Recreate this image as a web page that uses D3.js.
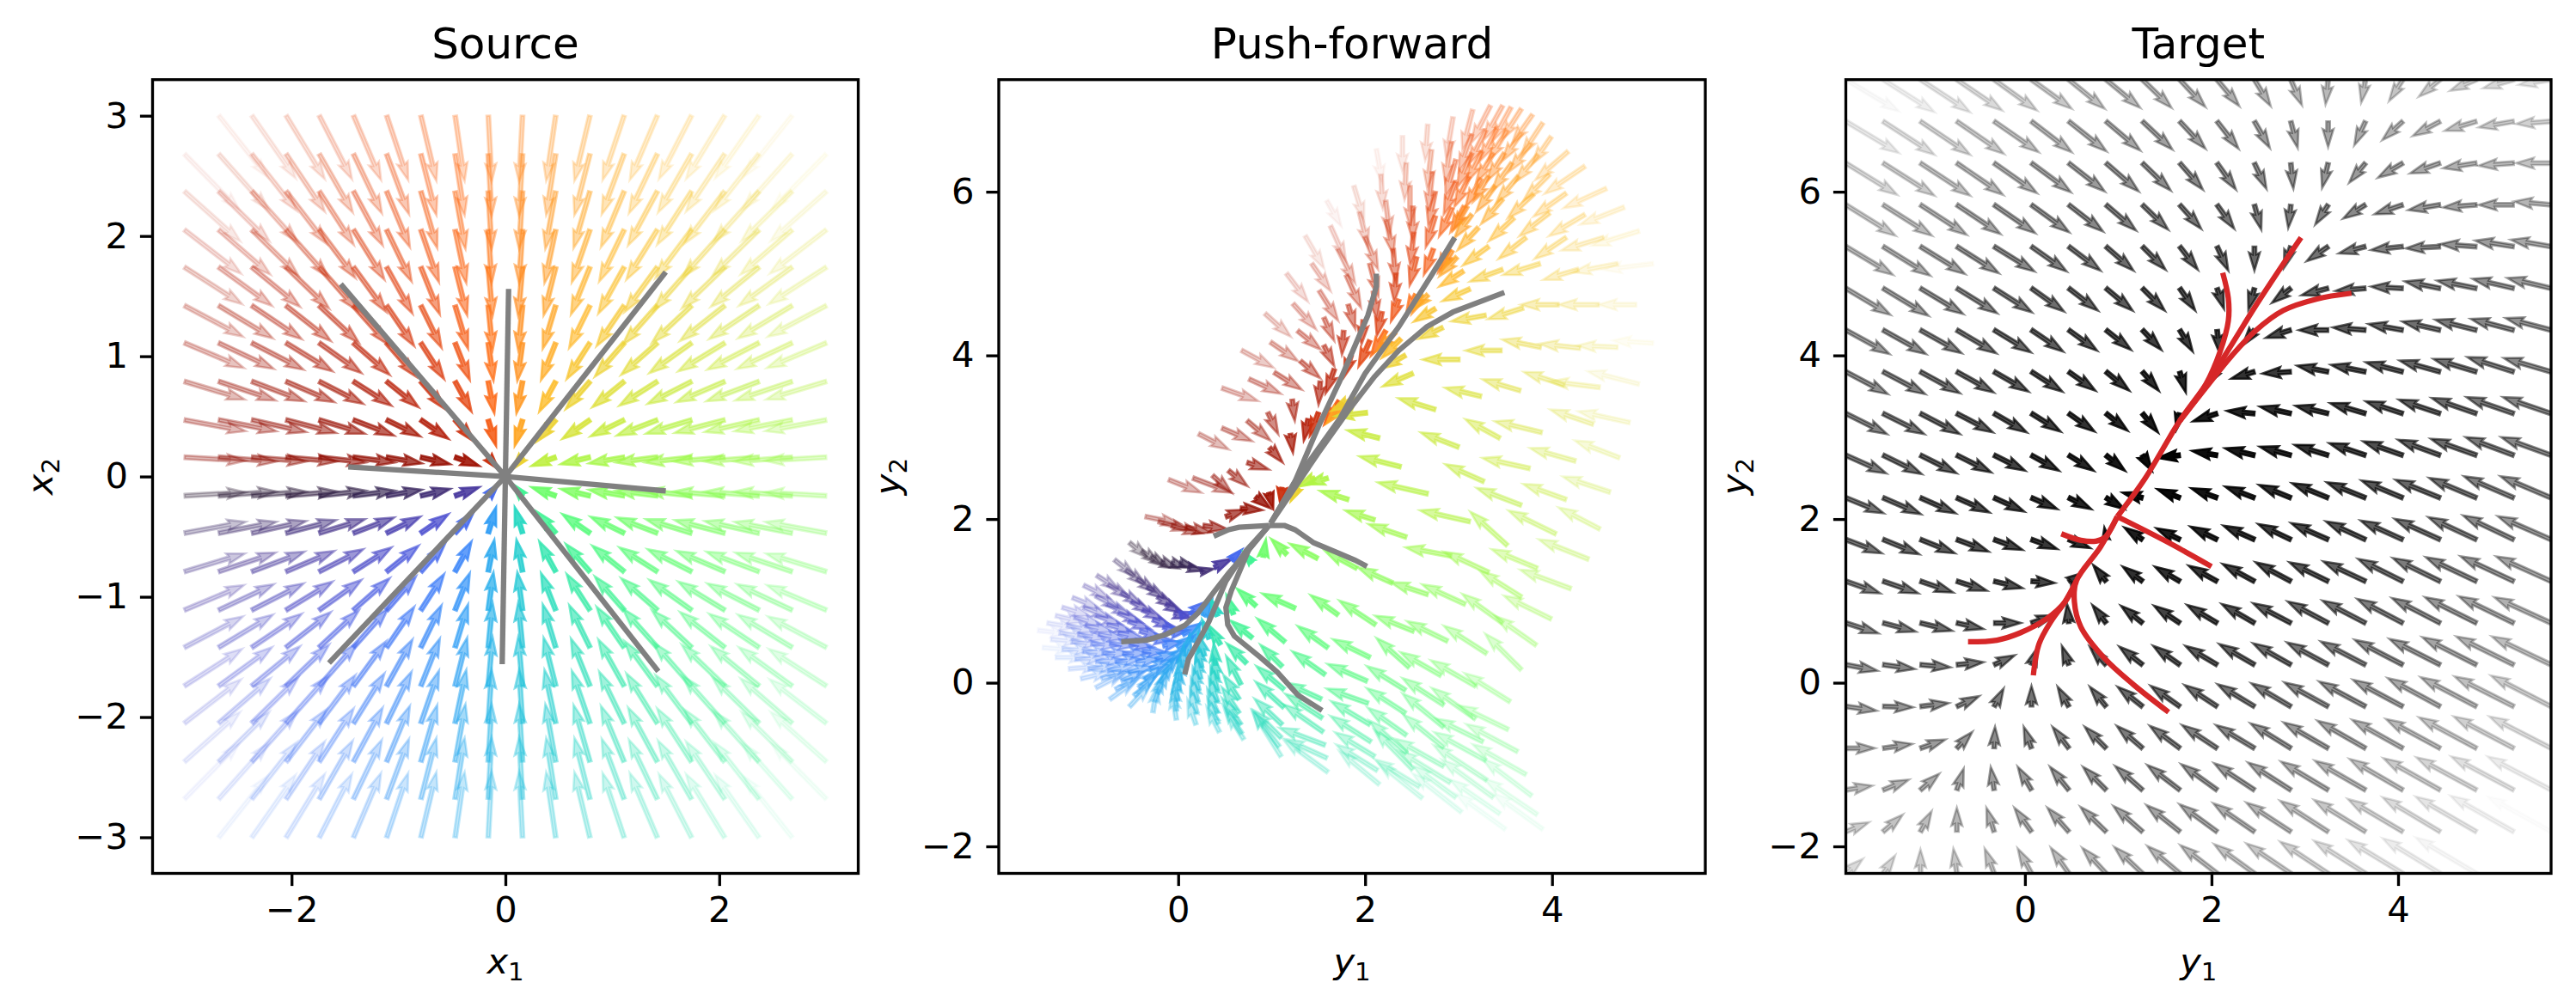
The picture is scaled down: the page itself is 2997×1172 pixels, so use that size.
<!DOCTYPE html>
<html>
<head>
<meta charset="utf-8">
<script src="https://cdn.jsdelivr.net/npm/d3@7"></script>
<style>
  html, body { margin: 0; background: #fff; }
  text { font-family: "DejaVu Sans"; fill: #000; }
</style>
</head>
<body>
<div id="my_dataviz"></div>
<script>
// grid of the source panel, row 0 is the top row
var sourceGridX = [-3,-2.68,-2.37,-2.05,-1.74,-1.42,-1.11,-.79,-.47,-.16,.16,.47,.79,1.11,1.42,1.74,2.05,2.37,2.68,3];
var sourceGridY = [3,2.68,2.37,2.05,1.74,1.42,1.11,.79,.47,.16,-.16,-.47,-.79,-1.11,-1.42,-1.74,-2.05,-2.37,-2.68,-3];

var sourceU = [
[.63,.57,.51,.45,.38,.32,.25,.18,.11,.04,-.04,-.11,-.18,-.25,-.32,-.38,-.45,-.51,-.57,-.63],
[.64,.58,.52,.45,.39,.33,.26,.18,.11,.04,-.04,-.11,-.18,-.26,-.33,-.39,-.45,-.52,-.58,-.64],
[.65,.59,.53,.47,.40,.34,.27,.19,.12,.04,-.04,-.12,-.19,-.27,-.34,-.40,-.47,-.53,-.59,-.65],
[.66,.60,.54,.49,.42,.36,.29,.21,.13,.04,-.04,-.13,-.21,-.29,-.36,-.42,-.49,-.54,-.60,-.66],
[.67,.62,.56,.50,.44,.38,.30,.22,.14,.05,-.05,-.14,-.22,-.30,-.38,-.44,-.50,-.56,-.62,-.67],
[.68,.63,.58,.52,.46,.40,.32,.24,.15,.05,-.05,-.15,-.24,-.32,-.40,-.46,-.52,-.58,-.63,-.68],
[.69,.64,.60,.54,.49,.42,.34,.27,.17,.06,-.06,-.17,-.27,-.34,-.42,-.49,-.54,-.60,-.64,-.69],
[.70,.66,.61,.56,.51,.44,.37,.28,.19,.07,-.07,-.19,-.28,-.37,-.44,-.51,-.56,-.61,-.66,-.70],
[.71,.67,.63,.58,.53,.47,.39,.32,.22,.09,-.09,-.22,-.32,-.39,-.47,-.53,-.58,-.63,-.67,-.71],
[.71,.67,.63,.59,.54,.48,.41,.34,.28,.12,-.12,-.28,-.34,-.41,-.48,-.54,-.59,-.63,-.67,-.71],
[.71,.67,.63,.59,.54,.48,.41,.34,.28,.12,-.12,-.28,-.34,-.41,-.48,-.54,-.59,-.63,-.67,-.71],
[.71,.67,.63,.58,.53,.47,.39,.32,.22,.09,-.09,-.22,-.32,-.39,-.47,-.53,-.58,-.63,-.67,-.71],
[.70,.66,.61,.56,.51,.44,.37,.28,.19,.07,-.07,-.19,-.28,-.37,-.44,-.51,-.56,-.61,-.66,-.70],
[.69,.64,.60,.54,.49,.42,.34,.27,.17,.06,-.06,-.17,-.27,-.34,-.42,-.49,-.54,-.60,-.64,-.69],
[.68,.63,.58,.52,.46,.40,.32,.24,.15,.05,-.05,-.15,-.24,-.32,-.40,-.46,-.52,-.58,-.63,-.68],
[.67,.62,.56,.50,.44,.38,.30,.22,.14,.05,-.05,-.14,-.22,-.30,-.38,-.44,-.50,-.56,-.62,-.67],
[.66,.60,.54,.49,.42,.36,.29,.21,.13,.04,-.04,-.13,-.21,-.29,-.36,-.42,-.49,-.54,-.60,-.66],
[.65,.59,.53,.47,.40,.34,.27,.19,.12,.04,-.04,-.12,-.19,-.27,-.34,-.40,-.47,-.53,-.59,-.65],
[.64,.58,.52,.45,.39,.33,.26,.18,.11,.04,-.04,-.11,-.18,-.26,-.33,-.39,-.45,-.52,-.58,-.64],
[.63,.57,.51,.45,.38,.32,.25,.18,.11,.04,-.04,-.11,-.18,-.25,-.32,-.38,-.45,-.51,-.57,-.63]];

var sourceV = [
[-.71,-.72,-.73,-.74,-.74,-.75,-.75,-.76,-.76,-.77,-.77,-.76,-.76,-.75,-.75,-.74,-.74,-.73,-.72,-.71],
[-.65,-.65,-.66,-.67,-.68,-.69,-.70,-.71,-.71,-.72,-.72,-.71,-.71,-.70,-.69,-.68,-.67,-.66,-.65,-.65],
[-.58,-.58,-.59,-.61,-.62,-.63,-.65,-.66,-.67,-.67,-.67,-.67,-.66,-.65,-.63,-.62,-.61,-.59,-.58,-.58],
[-.51,-.52,-.53,-.55,-.56,-.58,-.60,-.61,-.62,-.62,-.62,-.62,-.61,-.60,-.58,-.56,-.55,-.53,-.52,-.51],
[-.43,-.45,-.46,-.48,-.50,-.52,-.54,-.55,-.56,-.57,-.57,-.56,-.55,-.54,-.52,-.50,-.48,-.46,-.45,-.43],
[-.36,-.38,-.39,-.41,-.43,-.45,-.47,-.49,-.50,-.52,-.52,-.50,-.49,-.47,-.45,-.43,-.41,-.39,-.38,-.36],
[-.29,-.30,-.31,-.33,-.35,-.37,-.39,-.42,-.43,-.44,-.44,-.43,-.42,-.39,-.37,-.35,-.33,-.31,-.30,-.29],
[-.21,-.22,-.23,-.24,-.26,-.28,-.30,-.32,-.35,-.37,-.37,-.35,-.32,-.30,-.28,-.26,-.24,-.23,-.22,-.21],
[-.13,-.13,-.14,-.15,-.16,-.18,-.19,-.22,-.25,-.30,-.30,-.25,-.22,-.19,-.18,-.16,-.15,-.14,-.13,-.13],
[-.04,-.05,-.05,-.05,-.06,-.06,-.07,-.08,-.10,-.14,-.14,-.10,-.08,-.07,-.06,-.06,-.05,-.05,-.05,-.04],
[.04,.05,.05,.05,.06,.06,.07,.08,.10,.14,.14,.10,.08,.07,.06,.06,.05,.05,.05,.04],
[.13,.13,.14,.15,.16,.18,.19,.22,.25,.30,.30,.25,.22,.19,.18,.16,.15,.14,.13,.13],
[.21,.22,.23,.24,.26,.28,.30,.32,.35,.37,.37,.35,.32,.30,.28,.26,.24,.23,.22,.21],
[.29,.30,.31,.33,.35,.37,.39,.42,.43,.44,.44,.43,.42,.39,.37,.35,.33,.31,.30,.29],
[.36,.38,.39,.41,.43,.45,.47,.49,.50,.52,.52,.50,.49,.47,.45,.43,.41,.39,.38,.36],
[.43,.45,.46,.48,.50,.52,.54,.55,.56,.57,.57,.56,.55,.54,.52,.50,.48,.46,.45,.43],
[.51,.52,.53,.55,.56,.58,.60,.61,.62,.62,.62,.62,.61,.60,.58,.56,.55,.53,.52,.51],
[.58,.58,.59,.61,.62,.63,.65,.66,.67,.67,.67,.67,.66,.65,.63,.62,.61,.59,.58,.58],
[.65,.65,.66,.67,.68,.69,.70,.71,.71,.72,.72,.71,.71,.70,.69,.68,.67,.66,.65,.65],
[.71,.72,.73,.74,.74,.75,.75,.76,.76,.77,.77,.76,.76,.75,.75,.74,.74,.73,.72,.71]];

// push-forward of that same grid
var pushX = [
[1.95,2.12,2.40,2.67,2.94,3.15,3.34,3.47,3.56,3.67,3.79,3.90,3.99,4.17,4.35,4.58,4.77,4.93,5.08,5.25],
[1.59,1.88,2.17,2.44,2.71,2.92,3.14,3.29,3.41,3.52,3.67,3.77,3.85,3.97,4.15,4.35,4.55,4.70,4.90,5.08],
[1.36,1.63,1.94,2.22,2.48,2.72,2.97,3.14,3.25,3.37,3.49,3.57,3.64,3.80,3.97,4.15,4.28,4.50,4.70,4.93],
[1.16,1.43,1.71,2.00,2.23,2.51,2.75,2.97,3.11,3.24,3.32,3.39,3.47,3.59,3.72,3.87,4.07,4.30,4.51,4.83],
[.93,1.23,1.51,1.80,2.05,2.30,2.52,2.75,2.93,3.06,3.09,3.14,3.21,3.32,3.47,3.69,3.88,4.13,4.44,4.72],
[.68,.99,1.28,1.56,1.82,2.09,2.33,2.55,2.73,2.90,2.93,2.98,3.05,3.12,3.29,3.46,3.66,3.89,4.25,4.62],
[.47,.76,1.03,1.31,1.56,1.77,1.98,2.18,2.36,2.54,2.60,2.67,2.75,2.83,3.01,3.24,3.44,3.76,4.15,4.51],
[.22,.47,.74,.96,1.22,1.52,1.67,1.85,2.05,2.22,2.32,2.38,2.43,2.51,2.75,3.00,3.27,3.67,4.04,4.39],
[-.10,.16,.37,.54,.74,.98,1.20,1.39,1.50,1.72,1.77,1.89,2.02,2.15,2.38,2.67,3.12,3.52,3.84,4.20],
[-.35,-.21,-.07,.08,.27,.51,.67,.83,.97,1.11,1.28,1.46,1.60,1.82,2.10,2.44,2.92,3.32,3.67,3.99],
[-.52,-.39,-.29,-.18,-.07,.02,.11,.24,.39,.57,.79,.91,1.16,1.49,1.91,2.29,2.67,3.07,3.47,3.83],
[-.68,-.56,-.44,-.33,-.22,-.13,-.04,.02,.13,.27,.42,.59,.83,1.25,1.71,2.11,2.52,2.88,3.30,3.67],
[-.87,-.75,-.61,-.50,-.38,-.27,-.16,-.07,.05,.16,.33,.45,.79,1.14,1.60,2.05,2.47,2.81,3.18,3.55],
[-1.01,-.88,-.76,-.64,-.53,-.41,-.29,-.16,-.01,.08,.28,.40,.73,1.11,1.57,2.02,2.43,2.84,3.18,3.53],
[-1.13,-1.01,-.88,-.76,-.64,-.52,-.38,-.24,-.09,.04,.25,.42,.67,1.13,1.53,2.03,2.43,2.84,3.26,3.63],
[-1.24,-1.11,-.99,-.85,-.73,-.59,-.45,-.30,-.15,.02,.24,.42,.65,1.13,1.54,2.05,2.44,2.84,3.29,3.72],
[-1.31,-1.19,-1.07,-.93,-.81,-.67,-.53,-.36,-.19,.01,.22,.42,.65,1.11,1.55,2.06,2.44,2.84,3.30,3.78],
[-1.40,-1.27,-1.14,-1.02,-.88,-.75,-.61,-.42,-.22,-.01,.21,.42,.67,1.10,1.57,2.10,2.51,2.91,3.37,3.84],
[-1.50,-1.36,-1.24,-1.10,-.96,-.82,-.67,-.47,-.25,-.02,.20,.43,.68,1.08,1.59,2.13,2.58,2.97,3.44,3.90],
[-1.59,-1.45,-1.31,-1.17,-1.04,-.88,-.73,-.52,-.27,-.02,.19,.44,.70,1.10,1.60,2.15,2.61,3.03,3.50,3.96]];

var pushY = [
[6.30,6.52,6.68,6.82,6.91,7.00,7.05,7.05,7.03,7.01,6.94,6.84,6.67,6.49,6.31,6.04,5.81,5.52,5.12,4.65],
[5.89,6.07,6.21,6.35,6.51,6.61,6.70,6.75,6.77,6.75,6.72,6.59,6.45,6.21,5.98,5.72,5.44,5.12,4.62,4.15],
[5.46,5.58,5.75,5.89,6.07,6.24,6.39,6.47,6.49,6.47,6.47,6.35,6.19,5.97,5.74,5.44,5.05,4.62,4.10,3.65],
[5.00,5.12,5.30,5.45,5.65,5.82,6.00,6.12,6.18,6.16,6.19,6.07,5.91,5.68,5.44,5.12,4.62,4.09,3.61,3.18],
[4.51,4.63,4.79,4.98,5.12,5.30,5.50,5.70,5.80,5.82,5.82,5.72,5.56,5.33,5.05,4.58,4.10,3.64,3.16,2.75],
[4.06,4.16,4.30,4.46,4.62,4.78,5.00,5.20,5.30,5.30,5.28,5.20,5.03,4.81,4.49,4.06,3.57,3.06,2.71,2.33],
[3.60,3.71,3.79,3.93,4.12,4.30,4.43,4.53,4.68,4.74,4.74,4.74,4.57,4.34,3.95,3.50,2.99,2.62,2.24,1.88],
[3.04,3.11,3.20,3.30,3.46,3.68,3.83,4.00,4.18,4.30,4.28,4.20,4.00,3.78,3.34,2.88,2.46,2.17,1.82,1.51],
[2.48,2.50,2.53,2.59,2.69,2.87,3.04,3.22,3.30,3.44,3.41,3.48,3.30,2.99,2.64,2.31,1.97,1.68,1.40,1.15],
[2.03,1.97,1.92,1.90,1.92,2.03,2.13,2.27,2.32,2.38,2.38,2.50,2.50,2.24,1.99,1.78,1.55,1.35,1.05,.78],
[1.71,1.61,1.54,1.48,1.47,1.47,1.41,1.36,1.41,1.50,1.47,1.54,1.57,1.52,1.40,1.22,1.08,.96,.73,.46],
[1.50,1.38,1.27,1.17,1.05,.96,.85,.82,.84,.82,.82,.84,.94,.91,.83,.71,.63,.51,.36,.16],
[1.31,1.20,1.10,.99,.89,.77,.68,.61,.59,.50,.54,.47,.55,.50,.43,.31,.19,.09,-.04,-.23],
[1.19,1.06,.96,.85,.75,.63,.54,.45,.43,.33,.33,.22,.24,.20,.10,.02,-.09,-.27,-.44,-.57],
[1.04,.92,.82,.71,.61,.48,.38,.29,.26,.19,.19,.05,-.02,-.08,-.20,-.25,-.37,-.54,-.72,-.84],
[.92,.80,.70,.59,.48,.36,.26,.17,.12,.03,.05,-.09,-.20,-.30,-.43,-.51,-.64,-.79,-.95,-1.12],
[.82,.70,.59,.48,.36,.26,.13,.05,0,-.09,-.09,-.23,-.37,-.51,-.60,-.72,-.86,-1.02,-1.19,-1.38],
[.73,.61,.50,.38,.26,.15,.03,-.06,-.13,-.22,-.23,-.37,-.51,-.67,-.76,-.90,-1.06,-1.22,-1.40,-1.61],
[.64,.53,.41,.29,.17,.05,-.08,-.16,-.23,-.34,-.37,-.50,-.62,-.78,-.92,-1.07,-1.27,-1.40,-1.60,-1.79],
[.55,.43,.31,.17,.05,-.06,-.20,-.29,-.36,-.45,-.51,-.60,-.69,-.90,-1.09,-1.24,-1.41,-1.58,-1.79,-1.97]];

var pushU = [
[.05,.07,0,-.03,-.08,-.12,-.22,-.22,-.22,-.23,-.24,-.25,-.22,-.38,-.47,-.50,-.51,-.55,-.58,-.60],
[.17,.12,.02,-.02,-.05,-.07,-.15,-.20,-.20,-.22,-.22,-.25,-.27,-.30,-.38,-.42,-.49,-.52,-.44,-.47],
[.22,.18,.10,.05,0,-.05,-.12,-.17,-.18,-.20,-.20,-.23,-.26,-.30,-.35,-.37,-.41,-.47,-.47,-.60],
[.25,.22,.20,.15,.08,0,-.08,-.14,-.17,-.18,-.18,-.22,-.25,-.29,-.32,-.43,-.44,-.47,-.58,-.60],
[.30,.27,.22,.17,.10,.03,-.04,-.11,-.15,-.16,-.16,-.20,-.24,-.30,-.38,-.41,-.45,-.47,-.50,-.52],
[.37,.32,.27,.12,.08,.04,-.02,-.08,-.11,-.13,-.14,-.20,-.28,-.32,-.40,-.42,-.44,-.55,-.53,-.55],
[.42,.37,.32,.23,.12,-.02,-.02,-.06,-.09,-.11,-.11,-.17,-.25,-.28,-.43,-.42,-.40,-.55,-.50,-.48],
[.35,.35,.27,.12,.03,-.02,-.10,-.08,-.13,-.17,-.22,-.22,-.27,-.35,-.43,-.44,-.45,-.52,-.55,-.58],
[.38,.45,.22,.22,.25,.15,.03,-.05,-.10,-.17,-.20,-.27,-.37,-.37,-.48,-.58,-.58,-.43,-.53,-.59],
[.40,.37,.35,.30,.28,.23,.25,.17,.05,-.02,-.08,-.20,-.25,-.33,-.34,-.44,-.53,-.52,-.48,-.55],
[.22,.22,.20,.20,.18,.17,.17,.15,.20,.12,-.10,.03,-.18,-.32,-.37,-.40,-.43,-.50,-.47,-.48],
[.25,.24,.23,.22,.21,.20,.20,.15,.20,.10,-.08,-.08,-.22,-.38,-.32,-.42,-.45,-.47,-.50,-.42],
[.27,.26,.25,.24,.24,.24,.22,.20,.22,.08,-.08,-.13,-.25,-.32,-.35,-.43,-.38,-.47,-.52,-.53],
[.30,.29,.28,.28,.26,.26,.25,.22,.20,.05,-.07,-.02,-.23,-.25,-.38,-.46,-.45,-.48,-.51,-.58],
[.32,.31,.30,.30,.29,.28,.27,.24,.20,.02,-.05,-.05,-.17,-.32,-.41,-.48,-.45,-.48,-.55,-.60],
[.33,.33,.32,.32,.31,.30,.28,.25,.18,0,-.06,-.08,-.18,-.33,-.43,-.45,-.45,-.47,-.60,-.62],
[.34,.34,.34,.33,.32,.31,.29,.25,.15,-.01,-.07,-.10,-.20,-.32,-.46,-.47,-.43,-.57,-.62,-.57],
[.35,.35,.35,.34,.33,.32,.29,.24,.12,-.02,-.08,-.12,-.22,-.32,-.53,-.46,-.45,-.60,-.60,-.62],
[.36,.36,.36,.35,.34,.33,.30,.25,.09,-.03,-.08,-.13,-.22,-.32,-.48,-.48,-.52,-.50,-.58,-.58],
[.37,.37,.37,.37,.35,.35,.32,.25,.05,-.05,-.10,-.15,-.20,-.33,-.52,-.47,-.52,-.57,-.58,-.60]];

var pushV = [
[-.38,-.40,-.42,-.42,-.48,-.47,-.43,-.40,-.40,-.36,-.34,-.38,-.32,-.33,-.32,-.23,-.20,-.17,-.07,0],
[-.30,-.40,-.40,-.43,-.45,-.47,-.43,-.40,-.38,-.35,-.33,-.33,-.32,-.30,-.27,-.25,-.15,-.10,0,.03],
[-.38,-.40,-.40,-.40,-.47,-.45,-.43,-.40,-.36,-.34,-.32,-.32,-.31,-.28,-.27,-.25,-.12,0,.02,.15],
[-.33,-.32,-.40,-.38,-.40,-.40,-.40,-.38,-.35,-.33,-.30,-.30,-.29,-.27,-.25,-.13,0,.05,.07,.13],
[-.27,-.30,-.35,-.38,-.38,-.38,-.38,-.36,-.33,-.30,-.28,-.27,-.26,-.22,-.14,-.13,.09,.15,.17,.20],
[-.20,-.22,-.22,-.27,-.28,-.32,-.33,-.33,-.30,-.27,-.25,-.22,-.18,-.14,-.07,0,.13,.13,.15,.18],
[-.15,-.17,-.20,-.20,-.24,-.28,-.28,-.28,-.25,-.22,-.22,-.17,-.15,-.13,0,.10,.22,.12,.18,.25],
[-.18,-.15,-.23,-.25,-.25,-.27,-.28,-.25,-.30,-.29,-.22,-.22,-.15,-.15,.13,.17,.20,.20,.27,.23],
[-.15,-.17,-.20,-.18,-.08,-.17,-.22,-.25,-.27,-.27,-.23,-.15,-.04,.09,.12,.13,.13,.39,.22,.22],
[-.08,-.10,-.09,-.06,-.04,.08,-.02,-.13,-.18,-.18,-.15,-.10,-.07,.10,.11,.15,.10,.24,.30,.27],
[-.18,-.15,-.12,-.08,-.06,-.05,-.04,.03,.10,.12,.12,.20,.18,.17,.20,.18,.14,.23,.34,.34],
[-.20,-.18,-.16,-.14,-.12,-.10,-.06,.04,.15,.18,.20,.22,.20,.17,.23,.28,.18,.23,.32,.42],
[-.17,-.16,-.14,-.13,-.11,-.09,-.04,.03,.13,.22,.22,.22,.20,.27,.25,.21,.34,.27,.30,.33],
[-.15,-.15,-.13,-.11,-.09,-.07,-.02,.05,.14,.25,.25,.25,.23,.25,.27,.20,.28,.31,.36,.28],
[-.13,-.12,-.10,-.08,-.06,-.04,0,.08,.18,.26,.27,.27,.33,.27,.19,.17,.29,.39,.27,.32],
[-.10,-.09,-.07,-.05,-.03,0,.03,.11,.22,.27,.27,.28,.28,.30,.28,.27,.32,.38,.33,.35],
[-.08,-.07,-.05,-.03,0,.03,.07,.15,.25,.28,.27,.28,.30,.30,.32,.30,.38,.32,.41,.43],
[-.06,-.05,-.03,-.01,.02,.06,.11,.19,.28,.30,.28,.29,.31,.32,.20,.28,.46,.37,.44,.42],
[-.04,-.03,-.01,.01,.04,.09,.15,.23,.31,.32,.29,.30,.33,.42,.22,.30,.32,.37,.40,.42],
[-.04,-.03,0,.03,.08,.18,.23,.27,.32,.34,.30,.30,.33,.53,.38,.39,.42,.45,.42,.42]];

// grid of the target panel, it runs right up to the axes limits
var targetGridX = [-1.92,-1.52,-1.12,-.73,-.33,.07,.47,.87,1.26,1.66,2.06,2.46,2.85,3.25,3.65,4.05,4.45,4.84,5.24,5.64];
var targetGridY = [7.37,6.86,6.35,5.84,5.33,4.82,4.31,3.80,3.29,2.78,2.26,1.75,1.24,.73,.22,-.29,-.80,-1.31,-1.82,-2.33];

var targetU = [
[.62,.60,.58,.53,.50,.47,.42,.40,.34,.30,.26,.19,.13,-.03,-.05,-.16,-.25,-.31,-.36,-.38],
[.62,.60,.58,.55,.52,.47,.44,.40,.35,.30,.25,.18,.08,0,-.13,-.24,-.32,-.37,-.41,-.41],
[.60,.60,.58,.54,.50,.46,.42,.38,.33,.27,.22,.14,.03,-.07,-.19,-.29,-.35,-.39,-.41,-.41],
[.58,.57,.54,.51,.48,.44,.40,.35,.30,.25,.20,.08,-.03,-.15,-.26,-.33,-.37,-.39,-.41,-.43],
[.55,.55,.52,.49,.47,.41,.37,.32,.27,.21,.13,0,-.08,-.25,-.31,-.37,-.40,-.42,-.45,-.47],
[.52,.53,.50,.47,.44,.38,.34,.31,.26,.18,.08,-.07,-.22,-.31,-.35,-.37,-.41,-.46,-.48,-.51],
[.51,.50,.48,.46,.43,.37,.33,.29,.22,.15,.03,-.14,-.29,-.34,-.38,-.40,-.44,-.48,-.50,-.53],
[.49,.49,.46,.43,.40,.36,.31,.27,.19,.07,-.08,-.27,-.33,-.36,-.40,-.43,-.47,-.50,-.54,-.55],
[.48,.48,.46,.42,.38,.34,.30,.25,.18,-.04,-.28,-.32,-.36,-.38,-.41,-.43,-.48,-.52,-.55,-.56],
[.47,.45,.42,.40,.36,.32,.29,.22,.11,-.25,-.29,-.34,-.36,-.39,-.42,-.46,-.49,-.53,-.56,-.58],
[.44,.44,.41,.38,.35,.30,.26,.21,-.23,-.26,-.30,-.34,-.37,-.42,-.45,-.48,-.52,-.55,-.58,-.59],
[.42,.42,.40,.37,.33,.30,.25,-.02,-.21,-.27,-.31,-.36,-.38,-.43,-.46,-.49,-.53,-.56,-.59,-.62],
[.40,.41,.38,.35,.33,.27,.14,-.15,-.23,-.29,-.33,-.37,-.41,-.45,-.49,-.52,-.55,-.59,-.62,-.64],
[.38,.38,.37,.31,.31,.27,-.02,-.16,-.25,-.30,-.35,-.38,-.44,-.47,-.50,-.53,-.56,-.60,-.64,-.66],
[.37,.37,.35,.31,.24,.07,-.08,-.19,-.27,-.31,-.37,-.41,-.44,-.48,-.52,-.56,-.59,-.63,-.67,-.69],
[.36,.35,.33,.26,.11,0,-.13,-.19,-.29,-.34,-.38,-.43,-.46,-.51,-.54,-.58,-.61,-.65,-.69,-.70],
[.34,.34,.29,.18,.01,-.09,-.19,-.25,-.30,-.35,-.41,-.45,-.47,-.52,-.56,-.59,-.63,-.67,-.70,-.72],
[.31,.30,.22,.08,-.04,-.16,-.22,-.27,-.32,-.38,-.42,-.47,-.50,-.55,-.59,-.62,-.66,-.70,-.73,-.74],
[.27,.23,.13,0,-.09,-.20,-.25,-.30,-.34,-.39,-.44,-.48,-.52,-.56,-.60,-.64,-.67,-.71,-.74,-.74],
[.20,.14,0,-.04,-.11,-.16,-.21,-.28,-.33,-.38,-.43,-.47,-.52,-.56,-.60,-.64,-.67,-.71,-.75,-.76]];

var targetV = [
[-.37,-.38,-.38,-.36,-.36,-.34,-.34,-.33,-.33,-.32,-.31,-.31,-.30,-.29,-.27,-.25,-.20,-.13,-.10,-.06],
[-.37,-.39,-.39,-.38,-.36,-.36,-.35,-.34,-.33,-.32,-.32,-.31,-.31,-.30,-.28,-.22,-.17,-.11,-.07,-.03],
[-.37,-.38,-.38,-.37,-.35,-.34,-.33,-.33,-.32,-.31,-.31,-.30,-.30,-.29,-.23,-.17,-.12,-.06,-.03,0],
[-.36,-.36,-.35,-.34,-.33,-.32,-.31,-.30,-.29,-.28,-.28,-.29,-.27,-.23,-.16,-.11,-.06,-.03,0,.04],
[-.33,-.34,-.32,-.31,-.29,-.29,-.28,-.28,-.27,-.27,-.28,-.28,-.25,-.17,-.08,-.04,-.02,.03,.07,.08],
[-.31,-.32,-.30,-.29,-.28,-.27,-.26,-.26,-.26,-.26,-.24,-.25,-.17,-.08,-.03,.02,.08,.09,.11,.12],
[-.28,-.28,-.27,-.27,-.26,-.25,-.24,-.23,-.23,-.25,-.27,-.18,-.09,0,.03,.07,.10,.12,.13,.14],
[-.26,-.26,-.25,-.24,-.23,-.23,-.22,-.22,-.22,-.24,-.12,-.08,-.02,.07,.08,.11,.13,.15,.17,.16],
[-.24,-.24,-.24,-.22,-.22,-.21,-.21,-.20,-.22,-.19,-.09,.03,.08,.09,.12,.14,.16,.18,.19,.19],
[-.21,-.22,-.21,-.20,-.18,-.18,-.18,-.18,-.18,-.03,.05,.08,.10,.12,.14,.16,.18,.19,.21,.21],
[-.18,-.19,-.18,-.17,-.16,-.13,-.13,-.13,.06,.10,.11,.13,.15,.17,.18,.20,.21,.23,.25,.25],
[-.16,-.17,-.16,-.14,-.12,-.11,-.10,.14,.14,.13,.15,.16,.18,.19,.21,.22,.24,.26,.28,.27],
[-.14,-.14,-.13,-.11,-.08,-.02,.09,.19,.17,.17,.18,.20,.22,.22,.23,.26,.27,.28,.29,.29],
[-.12,-.10,-.09,-.07,0,.09,.22,.21,.20,.20,.21,.22,.23,.25,.26,.28,.29,.30,.31,.30],
[-.07,-.05,-.03,.03,.11,.20,.22,.21,.21,.22,.22,.24,.25,.26,.27,.29,.30,.32,.33,.33],
[-.05,-.01,.04,.12,.21,.24,.23,.23,.23,.24,.25,.26,.27,.28,.29,.31,.33,.34,.35,.36],
[0,.05,.10,.19,.25,.25,.25,.25,.26,.26,.27,.27,.29,.30,.32,.33,.34,.36,.37,.37],
[.05,.12,.19,.25,.27,.27,.27,.27,.28,.29,.30,.31,.32,.33,.34,.36,.37,.38,.39,.39],
[.11,.20,.24,.28,.28,.28,.28,.29,.30,.31,.32,.33,.34,.36,.37,.38,.40,.41,.42,.41],
[.17,.21,.28,.29,.29,.29,.30,.30,.31,.32,.33,.34,.35,.37,.38,.39,.41,.42,.43,.43]];

// the eight spokes, source panel then their images
var spokesSource = [
  {x:[0,.03], y:[0,1.56]}, {x:[0,1.50], y:[0,1.70]}, {x:[0,1.50], y:[0,-.12]}, {x:[0,1.43], y:[0,-1.62]},
  {x:[0,-.03], y:[0,-1.56]}, {x:[0,-1.65], y:[0,-1.55]}, {x:[0,-1.47], y:[0,.08]}, {x:[0,-1.54], y:[0,1.60]}];

var spokesPush = [
  {x:[.99,1.25,1.73,2.0,2.36,2.71,2.96], y:[1.95,2.46,3.23,3.78,4.35,4.98,5.44]},
  {x:[.99,1.5,1.83,2.1,2.36,2.66,2.94,3.49], y:[1.95,2.81,3.34,3.74,4.06,4.35,4.53,4.77]},
  {x:[.97,1.14,1.25,1.45,1.68,1.89,2.02], y:[1.92,1.92,1.87,1.71,1.60,1.50,1.42]},
  {x:[.97,.76,.57,.51,.53,.6,.88,1.06,1.28,1.54], y:[1.92,1.64,1.13,.92,.71,.57,.31,.13,-.15,-.34]},
  {x:[.97,.73,.51,.33,.17,.11,.07], y:[1.92,1.62,1.24,.75,.41,.29,.10]},
  {x:[.97,.73,.54,.39,.21,.07,-.13,-.34,-.61], y:[1.92,1.59,1.34,1.12,.85,.70,.59,.52,.50]},
  {x:[.97,.65,.54,.38], y:[1.92,1.90,1.87,1.79]},
  {x:[.99,1.25,1.5,1.73,1.9,2.03,2.12,2.12], y:[1.95,2.46,3.13,3.69,4.14,4.49,4.84,5.0]}];

var spokesTarget = [
  {x:[.99,1.29,1.66,1.97,2.22,2.47,2.77,2.96], y:[2.03,2.5,3.2,3.69,4.14,4.6,5.12,5.44]},
  {x:[1.66,1.97,2.22,2.47,2.77,3.13,3.5], y:[3.2,3.65,4.0,4.3,4.55,4.69,4.76]},
  {x:[.99,1.51,2.0], y:[2.03,1.73,1.42]},
  {x:[.99,.81,.55,.53,.6,.86,1.16,1.54], y:[2.03,1.66,1.24,.99,.68,.29,-.02,-.36]},
  {x:[.55,.43,.28,.15,.09], y:[1.24,.99,.75,.47,.09]},
  {x:[.55,.43,.23,-.05,-.3,-.61], y:[1.24,.99,.78,.61,.52,.50]},
  {x:[.99,.86,.76,.6,.39], y:[2.03,1.78,1.73,1.74,1.82]},
  {x:[1.66,1.94,2.09,2.18,2.18,2.12], y:[3.2,3.65,4.04,4.42,4.7,5.01]}];

// tick labels
var sourceTicksX = [-2,0,2], sourceTicksY = [-3,-2,-1,0,1,2,3];
var pushTicksX = [0,2,4], pushTicksY = [-2,0,2,4,6];

var svg = d3.select("#my_dataviz")
    .append("svg")
    .attr("width", 2997)
    .attr("height", 1172);

var top_ = 92.7, bottom_ = 1016.5;
var quiverScale = d3.scaleLinear().domain([0, 1]).range([0, 100]);
var shaft = 4.2;

// one arrow outline, same proportions as a matplotlib quiver
function arrowPath(tx, ty, u, v) {
    var dx = quiverScale(u), dy = -quiverScale(v);
    var L = Math.sqrt(dx * dx + dy * dy);
    if (L < 0.5) return "";
    var s = Math.min(1, L / (5 * shaft)); // short arrows shrink as a whole
    var w = shaft * s / 2, hw = 1.5 * shaft * s, hl = 5 * shaft * s, ha = 4.5 * shaft * s;
    var c = dx / L, n = dy / L;
    var pts = [[0,-w],[L-ha,-w],[L-hl,-hw],[L,0],[L-hl,hw],[L-ha,w],[0,w]];
    return "M" + pts.map(function(p) {
        return (tx + p[0] * c - p[1] * n).toFixed(2) + "," + (ty + p[0] * n + p[1] * c).toFixed(2);
    }).join("L") + "Z";
}

function makePanel(left, right, xDomain, yDomain, ticksX, ticksY, id) {
    var x = d3.scaleLinear().domain(xDomain).range([left, right]);
    var y = d3.scaleLinear().domain(yDomain).range([bottom_, top_]);
    svg.append("clipPath").attr("id", id).append("rect")
        .attr("x", left).attr("y", top_).attr("width", right - left).attr("height", bottom_ - top_);
    var g = svg.append("g");
    var marks = g.append("g").attr("clip-path", "url(#" + id + ")");
    return {x: x, y: y, g: g, marks: marks, ticksX: ticksX, ticksY: ticksY, left: left, right: right};
}

function finishPanel(p, title, xName, yName, yLabelX) {
    // Add X axis
    var ax = p.g.append("g")
        .attr("transform", "translate(0," + bottom_ + ")")
        .call(d3.axisBottom(p.x).tickValues(p.ticksX).tickFormat(d3.format("d")).tickSize(14.6).tickPadding(12));
    // Add Y axis
    var ay = p.g.append("g")
        .attr("transform", "translate(" + p.left + ",0)")
        .call(d3.axisLeft(p.y).tickValues(p.ticksY).tickFormat(d3.format("d")).tickSize(14.6).tickPadding(14));
    [ax, ay].forEach(function(a) {
        a.select(".domain").remove();
        a.selectAll("line").attr("stroke", "#000").attr("stroke-width", 3.33);
        a.selectAll("text").attr("font-size", 41.67).attr("font-family", "DejaVu Sans").attr("fill", "#000");
    });
    p.g.append("rect")
        .attr("x", p.left).attr("y", top_)
        .attr("width", p.right - p.left).attr("height", bottom_ - top_)
        .attr("fill", "none").attr("stroke", "#000").attr("stroke-width", 3.33);
    p.g.append("text")
        .attr("x", (p.left + p.right) / 2).attr("y", 68)
        .attr("text-anchor", "middle").attr("font-size", 50)
        .text(title);
    axisName(p.g.append("text")
        .attr("x", (p.left + p.right) / 2).attr("y", 1133)
        .attr("text-anchor", "middle"), xName);
    axisName(p.g.append("text")
        .attr("transform", "translate(" + yLabelX + "," + (top_ + bottom_) / 2 + ") rotate(-90)")
        .attr("text-anchor", "middle"), yName);
}

function axisName(t, name) {
    t.attr("font-size", 41.67);
    t.append("tspan").attr("font-style", "italic").text(name[0]);
    t.append("tspan").attr("font-size", 29.2).attr("dy", 8).text(name[1]);
}

function drawLines(p, lines, color) {
    var line = d3.line()
        .x(function(d) { return p.x(d[0]); })
        .y(function(d) { return p.y(d[1]); })
        .curve(color == "#d62728" ? d3.curveCatmullRom : d3.curveLinear);
    lines.forEach(function(s) {
        p.marks.append("path")
            .attr("d", line(d3.zip(s.x, s.y)))
            .attr("fill", "none")
            .attr("stroke", color)
            .attr("stroke-width", 6.25);
    });
}

// flatten a grid of arrows into rows of data for a data join
function cells(tailX, tailY, U, V) {
    var out = [];
    U.forEach(function(row, m) {
        row.forEach(function(u, k) {
            out.push({x: tailX(m, k), y: tailY(m, k), u: u, v: V[m][k], k: k, m: m});
        });
    });
    return out;
}

function drawArrows(p, data, color, alpha) {
    p.marks.selectAll(".arrow")
        .data(data)
        .enter()
        .append("path")
        .attr("class", "arrow")
        .attr("d", function(d) { return arrowPath(p.x(d.x), p.y(d.y), d.u, d.v); })
        .attr("fill", color)
        .attr("stroke", color)
        .attr("stroke-width", 2.6)
        .attr("stroke-linejoin", "miter")
        .attr("fill-opacity", alpha)
        .attr("stroke-opacity", alpha);
}

// colour comes from the angle in the source plane, fading with the radius
var maxR = Math.hypot(3, 3);
function sourceColor(d) {
    var a = Math.atan2(sourceGridY[d.m], sourceGridX[d.k]);
    return d3.interpolateTurbo((a + Math.PI) / (2 * Math.PI));
}
function sourceAlpha(d) {
    return Math.max(0, 1 - Math.hypot(sourceGridX[d.k], sourceGridY[d.m]) / maxR);
}

// target panel fades away from the dense part of the distribution
function targetAlpha(d) {
    var dx = d.x - 1.6, dy = d.y - 2.6 - 0.15 * (d.x - 1.6);
    var r = Math.pow(Math.pow(Math.abs(dx) / 7.4, 1.6) + Math.pow(Math.abs(dy) / 6.7, 1.6), 1 / 1.6);
    return Math.max(0, Math.min(1, 1.02 - r));
}

// Source
var p1 = makePanel(177.5, 998.5, [-3.3, 3.3], [-3.3, 3.3], sourceTicksX, sourceTicksY, "clip1");
drawArrows(p1, cells(function(m, k) { return sourceGridX[k]; }, function(m, k) { return sourceGridY[m]; }, sourceU, sourceV),
    sourceColor, sourceAlpha);
drawLines(p1, spokesSource, "#808080");
finishPanel(p1, "Source", "x1", "x2", 61);

// Push-forward
var p2 = makePanel(1162, 1984, [-1.92, 5.64], [-2.33, 7.37], pushTicksX, pushTicksY, "clip2");
drawArrows(p2, cells(function(m, k) { return pushX[m][k]; }, function(m, k) { return pushY[m][k]; }, pushU, pushV),
    sourceColor, sourceAlpha);
drawLines(p2, spokesPush, "#808080");
finishPanel(p2, "Push-forward", "y1", "y2", 1047);

// Target
var p3 = makePanel(2147.5, 2968, [-1.92, 5.64], [-2.33, 7.37], pushTicksX, pushTicksY, "clip3");
drawArrows(p3, cells(function(m, k) { return targetGridX[k]; }, function(m, k) { return targetGridY[m]; }, targetU, targetV),
    "#000", targetAlpha);
drawLines(p3, spokesTarget, "#d62728");
finishPanel(p3, "Target", "y1", "y2", 2032);
</script>
</body>
</html>
